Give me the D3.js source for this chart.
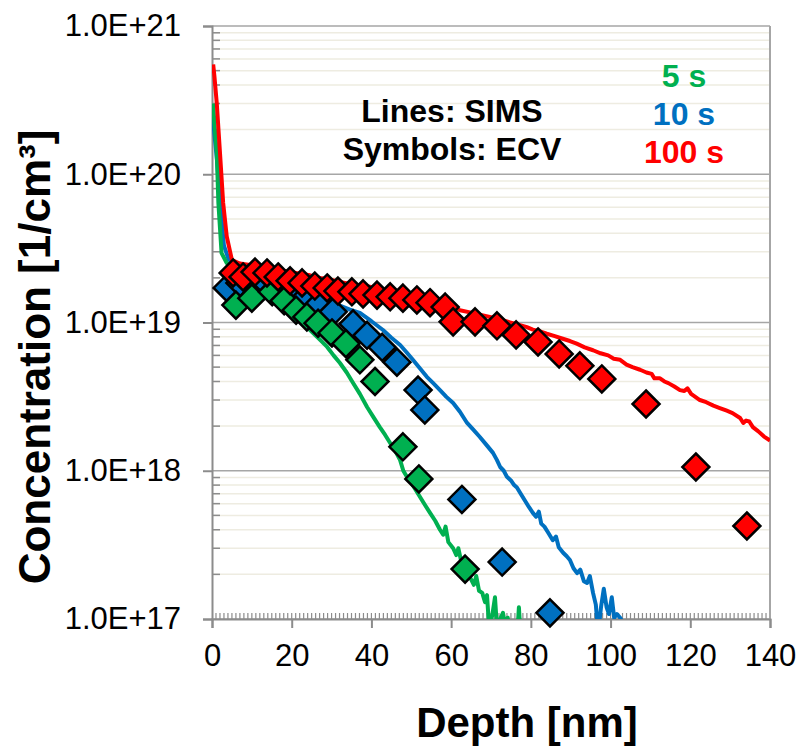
<!DOCTYPE html>
<html>
<head>
<meta charset="utf-8">
<script src="https://cdn.jsdelivr.net/npm/d3@7"></script>
<style>
  body { margin: 0; background: #fff; }
  text { font-family: "Liberation Sans", Arial, sans-serif; }
</style>
</head>
<body>
<div id="chart"></div>
<script>
// ---- data ----
const depthTicks = [0, 20, 40, 60, 80, 100, 120, 140];
const concTicks = [1e17, 1e18, 1e19, 1e20, 1e21];
const seriesLabels = ['5 s', '10 s', '100 s'];
const seriesColors = ['#00B050', '#0070C0', '#FF0000'];
const notes = ['Lines: SIMS', 'Symbols: ECV'];

// SIMS profiles [depth nm, conc 1/cm3]
const sims5s = [[0.3,3.0e20],[0.6,2.2e20],[1.2,1.39e20],[1.6,6.4e19],[2.4,2.94e19],[3.7,2.52e19],[5.0,2.4e19],[7.0,2.3e19],[9.5,2.15e19],[12.0,1.94e19],[14.6,1.75e19],[17.1,1.55e19],[19.6,1.32e19],[22.1,1.1e19],[24.6,8.9e18],[26.8,7.8e18],[28.9,6.84e18],[30.5,6.0e18],[32.1,5.33e18],[33.8,4.6e18],[35.4,3.91e18],[37.1,3.3e18],[38.9,2.69e18],[40.5,2.3e18],[42.1,1.97e18],[43.4,1.75e18],[44.7,1.54e18],[46.0,1.36e18],[47.2,1.18e18],[48.0,1.0e18],[48.9,9.1e17],[50.0,8.3e17],[51.0,7.5e17],[52.2,6.65e17],[53.4,5.9e17],[54.7,5.2e17],[56.0,4.6e17],[57.2,4.0e17],[58.0,3.7e17],[58.6,4.2e17],[59.3,3.3e17],[60.5,3.0e17],[61.3,2.7e17],[61.8,3.0e17],[62.6,2.4e17],[63.4,2.3e17],[64.2,2.0e17],[65.0,1.85e17],[65.7,1.7e17],[66.3,1.95e17],[67.0,1.55e17],[67.8,1.5e17],[68.5,1.3e17],[69.0,1.45e17],[69.5,9e16],[70.3,1.05e17],[71.0,1.4e17],[71.6,8e16],[72.3,1.0e17],[73.0,1.1e17],[73.6,9e16],[74.2,1.02e17],[74.8,8e16],[76.6,8e16],[77.0,1.2e17],[77.4,8e16]];
const sims10s = [[0.2,2.6e20],[0.5,2.0e20],[1.3,1.2e20],[2.0,6.5e19],[3.0,3.3e19],[4.2,2.65e19],[5.5,2.55e19],[7.0,2.45e19],[9.5,2.33e19],[12.0,2.2e19],[14.6,2.09e19],[17.1,1.95e19],[19.6,1.82e19],[22.1,1.7e19],[24.6,1.6e19],[27.1,1.46e19],[29.6,1.38e19],[32.1,1.3e19],[34.6,1.22e19],[37.1,1.16e19],[40.0,1.02e19],[42.9,8.9e18],[45.0,7.9e18],[47.2,7.05e18],[48.8,6.3e18],[50.4,5.6e18],[52.2,4.9e18],[53.9,4.3e18],[55.5,3.9e18],[57.2,3.5e18],[58.8,3.15e18],[60.5,2.86e18],[62.2,2.5e18],[64.0,2.1e18],[65.5,1.9e18],[67.2,1.69e18],[68.8,1.5e18],[70.5,1.32e18],[71.5,1.18e18],[72.3,1.06e18],[73.2,1.0e18],[74.0,9.1e17],[75.0,8.6e17],[75.8,8.0e17],[76.5,7.7e17],[77.3,7.1e17],[78.5,6.3e17],[79.5,5.7e17],[80.5,5.2e17],[81.3,4.9e17],[82.0,5.3e17],[82.6,4.4e17],[83.4,4.2e17],[84.4,3.8e17],[85.5,3.4e17],[86.3,3.6e17],[87.0,3.05e17],[88.1,2.8e17],[89.0,2.65e17],[89.8,2.5e17],[90.7,2.2e17],[91.6,2.04e17],[92.4,2.15e17],[93.3,1.8e17],[94.1,1.75e17],[94.8,1.95e17],[95.6,1.5e17],[96.3,1.25e17],[96.9,8e16],[97.6,1.2e17],[98.3,1.6e17],[99.0,1.2e17],[99.6,1.08e17],[100.3,1.4e17],[100.9,1.02e17],[101.6,1.08e17],[102.4,1.02e17],[103.0,9.5e16]];
const sims100s = [[0.3,5.5e20],[0.6,4.6e20],[1.2,3.0e20],[2.0,1.4e20],[2.8,6.4e19],[3.7,3.8e19],[5.0,2.64e19],[7.0,2.5e19],[9.5,2.44e19],[12.0,2.36e19],[14.6,2.3e19],[17.1,2.25e19],[19.6,2.19e19],[22.1,2.13e19],[24.6,2.08e19],[27.1,2.0e19],[29.6,1.95e19],[32.1,1.88e19],[34.6,1.82e19],[37.1,1.78e19],[39.7,1.74e19],[42.1,1.68e19],[44.7,1.63e19],[47.2,1.6e19],[49.7,1.56e19],[52.2,1.49e19],[54.7,1.42e19],[57.2,1.36e19],[59.7,1.28e19],[62.2,1.21e19],[64.7,1.17e19],[67.2,1.13e19],[69.7,1.09e19],[72.3,1.05e19],[74.8,1.0e19],[77.3,9.6e18],[79.0,9.3e18],[80.5,8.95e18],[82.3,8.7e18],[84.0,8.4e18],[86.0,8.1e18],[87.8,7.8e18],[89.8,7.5e18],[91.5,7.2e18],[93.5,6.8e18],[95.6,6.5e18],[97.5,6.2e18],[99.4,6.0e18],[100.8,5.7e18],[102.4,5.6e18],[104.0,5.2e18],[105.5,5.0e18],[107.4,4.8e18],[109.0,4.6e18],[110.3,4.5e18],[111.0,4.2e18],[112.4,4.2e18],[113.5,4.0e18],[114.5,3.9e18],[116.0,3.7e18],[117.4,3.5e18],[118.5,3.45e18],[119.3,3.6e18],[120.2,3.3e18],[122.4,3.0e18],[124.0,2.9e18],[125.8,2.75e18],[127.4,2.65e18],[129.0,2.55e18],[130.6,2.45e18],[132.5,2.27e18],[133.3,2.1e18],[134.0,2.18e18],[134.8,2.15e18],[135.7,1.97e18],[137.0,1.85e18],[138.5,1.7e18],[140.0,1.6e18]];

// ECV points [depth nm, conc 1/cm3]
const ecv5s = [[6.0,1.31e19],[10.0,1.46e19],[15.1,1.61e19],[18.1,1.40e19],[21.1,1.21e19],[23.8,1.09e19],[26.6,9.9e18],[30.1,8.5e18],[33.6,7.2e18],[37.1,5.6e18],[40.9,4.0e18],[47.9,1.45e18],[51.9,8.8e17],[63.5,2.17e17]];
const ecv10s = [[3.8,1.71e19],[7.0,1.85e19],[10.3,1.94e19],[13.6,1.85e19],[16.8,1.74e19],[20.1,1.61e19],[23.3,1.46e19],[26.8,1.33e19],[30.4,1.18e19],[35.4,9.8e18],[38.9,8.2e18],[42.7,6.8e18],[46.4,5.4e18],[51.7,3.5e18],[53.4,2.57e18],[62.7,6.4e17],[72.8,2.42e17],[84.8,1.1e17]];
const ecv100s = [[5.3,2.16e19],[7.8,2.03e19],[10.8,2.19e19],[13.8,2.16e19],[16.6,2.03e19],[19.6,1.91e19],[22.6,1.85e19],[25.8,1.76e19],[28.9,1.71e19],[31.6,1.63e19],[35.1,1.61e19],[37.9,1.56e19],[41.4,1.53e19],[44.7,1.49e19],[47.9,1.46e19],[51.4,1.42e19],[54.7,1.36e19],[58.5,1.27e19],[60.5,1.01e19],[66.0,1.01e19],[71.5,9.5e18],[76.3,8.25e18],[81.8,7.39e18],[87.1,6.14e18],[92.3,5.1e18],[97.8,4.16e18],[108.9,2.82e18],[121.4,1.06e18],[134.2,4.24e17]];

// ---- layout ----
const width = 800;
const height = 748;
const plot = { left: 212, right: 770, top: 26, bottom: 619 };
const gridGrey = '#A6A6A6';
const minorTan = '#EEECE1';

const x = d3.scaleLinear().domain([0, 140]).range([plot.left, plot.right]);
const y = d3.scaleLog().domain([1e17, 1e21]).range([plot.bottom, plot.top]);

const svg = d3.select('#chart').append('svg')
  .attr('width', width)
  .attr('height', height)
  .style('display', 'block');

svg.append('defs').append('clipPath').attr('id', 'plot-clip')
  .append('rect')
  .attr('x', plot.left).attr('y', plot.top)
  .attr('width', plot.right - plot.left).attr('height', plot.bottom - plot.top);

// minor gridlines (2..9 in each decade)
const minorVals = [];
concTicks.slice(0, -1).forEach((t) => {
  for (let k = 2; k <= 9; k += 1) minorVals.push(t * k);
});

svg.append('g').selectAll('line')
  .data(minorVals)
  .enter().append('line')
  .attr('x1', plot.left).attr('x2', plot.right)
  .attr('y1', (d) => y(d)).attr('y2', (d) => y(d))
  .attr('stroke', minorTan)
  .attr('stroke-width', 1.5);

svg.append('g').selectAll('line')
  .data(concTicks)
  .enter().append('line')
  .attr('x1', plot.left).attr('x2', plot.right)
  .attr('y1', (d) => y(d)).attr('y2', (d) => y(d))
  .attr('stroke', gridGrey)
  .attr('stroke-width', 1.5);

// right border
svg.append('line')
  .attr('x1', plot.right).attr('x2', plot.right)
  .attr('y1', plot.top).attr('y2', plot.bottom)
  .attr('stroke', gridGrey)
  .attr('stroke-width', 2);

// minor ticks on the axes (inside)
svg.append('g').selectAll('line')
  .data(minorVals)
  .enter().append('line')
  .attr('x1', plot.left).attr('x2', plot.left + 8)
  .attr('y1', (d) => y(d)).attr('y2', (d) => y(d))
  .attr('stroke', '#8C8C8C')
  .attr('stroke-width', 1.5);

svg.append('g').selectAll('line')
  .data(d3.range(1, 140))
  .enter().append('line')
  .attr('x1', (d) => x(d)).attr('x2', (d) => x(d))
  .attr('y1', plot.bottom).attr('y2', plot.bottom - 6)
  .attr('stroke', '#8C8C8C')
  .attr('stroke-width', 1.2);

// axes
const yAxis = d3.axisLeft(y)
  .tickValues(concTicks)
  .tickSize(9)
  .tickPadding(22)
  .tickFormat((d) => `1.0E+${Math.round(Math.log10(d))}`);

const xAxis = d3.axisBottom(x)
  .tickValues(depthTicks)
  .tickSize(9)
  .tickPadding(16)
  .tickFormat(d3.format('d'));

const gy = svg.append('g')
  .attr('transform', `translate(${plot.left},0)`)
  .call(yAxis);

const gx = svg.append('g')
  .attr('transform', `translate(0,${plot.bottom})`)
  .call(xAxis);

[gx, gy].forEach((g) => {
  g.select('.domain').attr('stroke', '#8C8C8C').attr('stroke-width', 2);
  g.selectAll('.tick line').attr('stroke', '#8C8C8C').attr('stroke-width', 2);
  g.selectAll('.tick text')
    .attr('fill', '#000')
    .style('font-size', '31px')
    .style('font-family', '"Liberation Sans", Arial, sans-serif');
});

// SIMS lines
const line = d3.line()
  .x((d) => x(d[0]))
  .y((d) => y(d[1]));

svg.append('g').attr('clip-path', 'url(#plot-clip)')
  .selectAll('path')
  .data([sims10s, sims5s, sims100s])
  .enter().append('path')
  .attr('d', line)
  .attr('fill', 'none')
  .attr('stroke', (d, i) => [seriesColors[1], seriesColors[0], seriesColors[2]][i])
  .attr('stroke-width', 4)
  .attr('stroke-linejoin', 'round');

// ECV diamonds
const h = 13.5;
const diamond = `M0,${-h}L${h},0L0,${h}L${-h},0Z`;

[[ecv10s, seriesColors[1]], [ecv5s, seriesColors[0]], [ecv100s, seriesColors[2]]].forEach(([pts, col]) => {
  svg.append('g').selectAll('path')
    .data(pts)
    .enter().append('path')
    .attr('d', diamond)
    .attr('transform', (d) => `translate(${x(d[0])},${y(d[1])})`)
    .attr('fill', col)
    .attr('stroke', '#000')
    .attr('stroke-width', 2.5)
    .attr('stroke-linejoin', 'miter');
});

// annotations
svg.append('g').selectAll('text')
  .data(notes)
  .enter().append('text')
  .attr('x', 452)
  .attr('y', (d, i) => 122 + i * 38)
  .attr('text-anchor', 'middle')
  .style('font-size', '32px')
  .style('font-weight', 'bold')
  .text((d) => d);

svg.append('g').selectAll('text')
  .data(seriesLabels)
  .enter().append('text')
  .attr('x', 684)
  .attr('y', (d, i) => 87 + i * 38)
  .attr('text-anchor', 'middle')
  .attr('fill', (d, i) => seriesColors[i])
  .style('font-size', '32px')
  .style('font-weight', 'bold')
  .text((d) => d);

// axis titles
svg.append('text')
  .attr('x', 527)
  .attr('y', 737)
  .attr('text-anchor', 'middle')
  .style('font-size', '42px')
  .style('font-weight', 'bold')
  .text('Depth [nm]');

svg.append('text')
  .attr('transform', 'translate(50,357) rotate(-90)')
  .attr('text-anchor', 'middle')
  .style('font-size', '44px')
  .style('font-weight', 'bold')
  .text('Concentration [1/cm³]');
</script>
</body>
</html>
